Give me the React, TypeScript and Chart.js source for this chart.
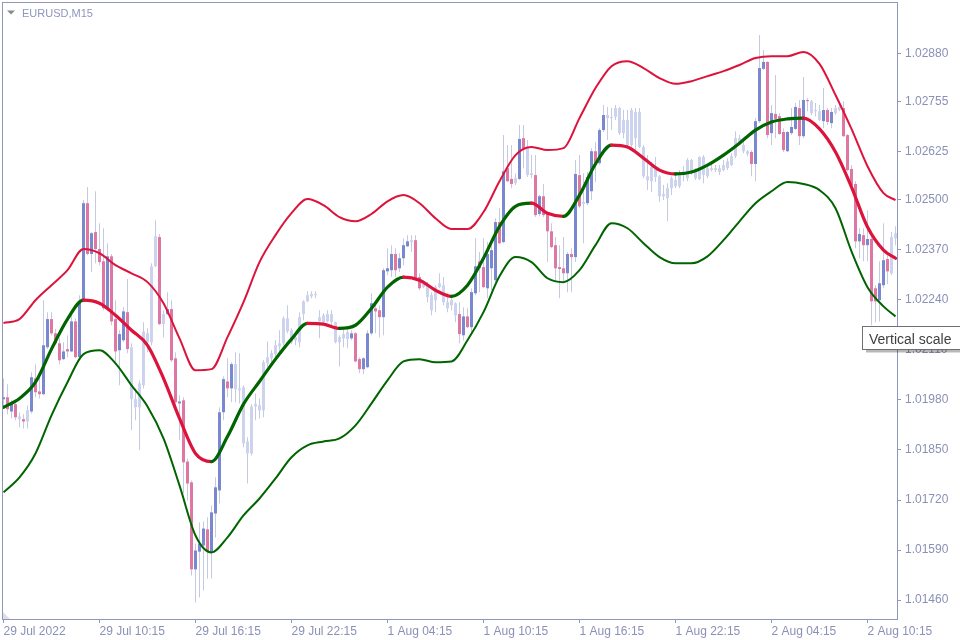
import React, { useEffect, useRef } from 'react';
import { Chart, registerables } from 'chart.js';

Chart.register(...registerables);

// ---- Data (EURUSD M15) ----
const opens = [
  1.01982,1.01987,1.01950,1.01969,1.01937,1.01930,1.01924,1.01950,1.02036,1.02002,
  1.01995,1.02117,1.02190,1.02153,1.02127,1.02086,1.02112,1.02106,1.02184,1.02091,
  1.02239,1.02491,1.02359,1.02416,1.02372,1.02340,1.02218,1.02353,1.02190,1.02109,
  1.02135,1.02208,1.02117,1.01982,1.01961,1.02018,1.02153,1.02130,1.02327,1.02403,
  1.02177,1.02203,1.02216,1.02088,1.01971,1.01979,1.01820,1.01766,1.01540,1.01586,
  1.01602,1.01644,1.01584,1.01685,1.01745,1.01948,1.02028,1.02010,1.02073,1.02010,
  1.02013,1.01872,1.01841,1.01963,1.01966,1.01953,1.02075,1.02088,1.02099,1.02119,
  1.02127,1.02192,1.02161,1.02135,1.02130,1.02203,1.02236,1.02249,1.02255,1.02195,
  1.02200,1.02184,1.02203,1.02182,1.02130,1.02140,1.02138,1.02140,1.02153,1.02086,
  1.02060,1.02065,1.02153,1.02218,1.02213,1.02195,1.02314,1.02317,1.02359,1.02322,
  1.02348,1.02379,1.02390,1.02395,1.02299,1.02273,1.02278,1.02252,1.02239,1.02273,
  1.02278,1.02234,1.02226,1.02231,1.02203,1.02148,1.02197,1.02169,1.02257,1.02340,
  1.02325,1.02270,1.02322,1.02291,1.02442,1.02390,1.02582,1.02554,1.02543,1.02554,
  1.02660,1.02634,1.02564,1.02564,1.02463,1.02509,1.02463,1.02418,1.02382,1.02325,
  1.02322,1.02309,1.02359,1.02351,1.02564,1.02489,1.02491,1.02522,1.02626,1.02595,
  1.02681,1.02720,1.02712,1.02715,1.02738,1.02673,1.02707,1.02642,1.02728,1.02728,
  1.02637,1.02561,1.02548,1.02585,1.02561,1.02509,1.02504,1.02530,1.02551,1.02535,
  1.02564,1.02556,1.02603,1.02574,1.02554,1.02611,1.02561,1.02582,1.02577,1.02582,
  1.02577,1.02582,1.02590,1.02613,1.02660,1.02642,1.02626,1.02624,1.02593,1.02704,
  1.02840,1.02858,1.02673,1.02723,1.02717,1.02676,1.02626,1.02673,1.02684,1.02738,
  1.02665,1.02759,1.02756,1.02730,1.02730,1.02704,1.02733,1.02699,1.02725,1.02733,
  1.02738,1.02668,1.02580,1.02541,1.02392,1.02408,1.02382,1.02398,1.02270,1.02239,
  1.02278,1.02346,1.02309,1.02400,
];

const highs = [
  1.02036,1.02021,1.01979,1.01974,1.01948,1.01943,1.01966,1.02052,1.02073,1.02044,
  1.02239,1.02208,1.02208,1.02164,1.02140,1.02130,1.02148,1.02200,1.02192,1.02252,
  1.02499,1.02533,1.02416,1.02522,1.02439,1.02426,1.02387,1.02359,1.02239,1.02161,
  1.02221,1.02294,1.02127,1.02010,1.02031,1.02182,1.02166,1.02335,1.02447,1.02411,
  1.02213,1.02260,1.02239,1.02104,1.01992,1.01987,1.01828,1.01771,1.01607,1.01662,
  1.01664,1.01675,1.01706,1.01779,1.01961,1.02041,1.02088,1.02078,1.02104,1.02101,
  1.02018,1.01883,1.01969,1.01997,1.01984,1.02083,1.02132,1.02109,1.02135,1.02161,
  1.02197,1.02226,1.02166,1.02151,1.02208,1.02239,1.02262,1.02262,1.02262,1.02213,
  1.02205,1.02213,1.02213,1.02184,1.02148,1.02166,1.02166,1.02161,1.02156,1.02091,
  1.02091,1.02161,1.02257,1.02234,1.02226,1.02322,1.02374,1.02382,1.02374,1.02361,
  1.02400,1.02408,1.02408,1.02408,1.02309,1.02291,1.02286,1.02260,1.02278,1.02309,
  1.02299,1.02257,1.02244,1.02234,1.02234,1.02221,1.02218,1.02270,1.02400,1.02364,
  1.02400,1.02390,1.02382,1.02452,1.02478,1.02668,1.02642,1.02642,1.02569,1.02694,
  1.02694,1.02655,1.02616,1.02616,1.02512,1.02541,1.02468,1.02439,1.02403,1.02382,
  1.02403,1.02364,1.02374,1.02603,1.02616,1.02569,1.02572,1.02634,1.02650,1.02686,
  1.02746,1.02741,1.02738,1.02746,1.02741,1.02733,1.02733,1.02738,1.02738,1.02738,
  1.02642,1.02616,1.02598,1.02611,1.02564,1.02538,1.02543,1.02561,1.02564,1.02577,
  1.02587,1.02608,1.02606,1.02582,1.02613,1.02616,1.02590,1.02600,1.02590,1.02590,
  1.02603,1.02608,1.02621,1.02678,1.02668,1.02652,1.02629,1.02629,1.02712,1.02928,
  1.02889,1.02860,1.02746,1.02824,1.02725,1.02686,1.02678,1.02738,1.02751,1.02759,
  1.02819,1.02764,1.02759,1.02751,1.02746,1.02790,1.02738,1.02738,1.02746,1.02756,
  1.02756,1.02671,1.02590,1.02548,1.02426,1.02426,1.02473,1.02405,1.02278,1.02340,
  1.02439,1.02356,1.02416,1.02431,
];

const lows = [
  1.01958,1.01943,1.01932,1.01927,1.01909,1.01906,1.01906,1.01945,1.01987,1.01984,
  1.01992,1.02112,1.02148,1.02122,1.02073,1.02083,1.02091,1.02104,1.02088,1.02088,
  1.02234,1.02356,1.02312,1.02335,1.02330,1.02213,1.02213,1.02174,1.02078,1.02018,
  1.02130,1.02101,1.01901,1.01927,1.01849,1.02010,1.02104,1.02122,1.02325,1.02174,
  1.02143,1.02200,1.02078,1.01966,1.01875,1.01737,1.01719,1.01524,1.01454,1.01467,
  1.01485,1.01516,1.01516,1.01623,1.01711,1.01927,1.01987,1.01974,1.01974,1.01971,
  1.01857,1.01763,1.01836,1.01927,1.01932,1.01935,1.02065,1.02075,1.02088,1.02104,
  1.02122,1.02153,1.02125,1.02122,1.02117,1.02187,1.02234,1.02244,1.02244,1.02140,
  1.02174,1.02182,1.02174,1.02127,1.02067,1.02117,1.02114,1.02135,1.02078,1.02049,
  1.02047,1.02062,1.02148,1.02153,1.02143,1.02148,1.02304,1.02299,1.02299,1.02312,
  1.02330,1.02377,1.02364,1.02291,1.02265,1.02270,1.02234,1.02200,1.02208,1.02270,
  1.02226,1.02208,1.02213,1.02182,1.02127,1.02135,1.02166,1.02148,1.02252,1.02260,
  1.02270,1.02244,1.02265,1.02286,1.02385,1.02387,1.02546,1.02530,1.02538,1.02551,
  1.02582,1.02559,1.02556,1.02455,1.02457,1.02455,1.02338,1.02374,1.02286,1.02244,
  1.02286,1.02260,1.02260,1.02338,1.02478,1.02387,1.02486,1.02499,1.02546,1.02590,
  1.02676,1.02655,1.02681,1.02707,1.02668,1.02660,1.02634,1.02637,1.02624,1.02634,
  1.02556,1.02525,1.02520,1.02546,1.02494,1.02499,1.02444,1.02512,1.02530,1.02530,
  1.02548,1.02548,1.02564,1.02551,1.02551,1.02543,1.02556,1.02574,1.02572,1.02564,
  1.02574,1.02577,1.02587,1.02608,1.02642,1.02621,1.02613,1.02561,1.02548,1.02699,
  1.02837,1.02660,1.02642,1.02660,1.02668,1.02624,1.02624,1.02668,1.02681,1.02642,
  1.02660,1.02730,1.02720,1.02717,1.02704,1.02686,1.02694,1.02686,1.02720,1.02730,
  1.02663,1.02574,1.02530,1.02374,1.02348,1.02340,1.02340,1.02174,1.02182,1.02184,
  1.02270,1.02281,1.02304,1.02382,
];

const closes = [
  1.01987,1.01956,1.01969,1.01935,1.01930,1.01924,1.01953,1.02039,1.02000,1.01995,
  1.02122,1.02190,1.02153,1.02127,1.02083,1.02106,1.02106,1.02184,1.02091,1.02236,
  1.02491,1.02359,1.02413,1.02372,1.02338,1.02218,1.02353,1.02184,1.02106,1.02151,
  1.02210,1.02112,1.01982,1.01961,1.02023,1.02158,1.02130,1.02327,1.02405,1.02177,
  1.02203,1.02216,1.02083,1.01974,1.01976,1.01818,1.01763,1.01540,1.01589,1.01607,
  1.01646,1.01586,1.01688,1.01753,1.01948,1.02034,1.02010,1.02073,1.02008,1.02005,
  1.01867,1.01841,1.01963,1.01969,1.01953,1.02078,1.02091,1.02101,1.02122,1.02127,
  1.02192,1.02158,1.02130,1.02143,1.02195,1.02236,1.02252,1.02255,1.02252,1.02184,
  1.02182,1.02203,1.02182,1.02130,1.02143,1.02151,1.02156,1.02153,1.02080,1.02060,
  1.02088,1.02153,1.02231,1.02210,1.02195,1.02317,1.02322,1.02359,1.02317,1.02348,
  1.02382,1.02392,1.02395,1.02296,1.02270,1.02283,1.02247,1.02213,1.02273,1.02283,
  1.02234,1.02218,1.02239,1.02200,1.02151,1.02197,1.02169,1.02260,1.02327,1.02322,
  1.02273,1.02359,1.02369,1.02442,1.02387,1.02574,1.02548,1.02541,1.02556,1.02658,
  1.02634,1.02564,1.02569,1.02460,1.02509,1.02460,1.02418,1.02377,1.02322,1.02320,
  1.02309,1.02359,1.02351,1.02567,1.02483,1.02494,1.02559,1.02626,1.02595,1.02681,
  1.02720,1.02712,1.02715,1.02738,1.02673,1.02707,1.02642,1.02733,1.02660,1.02637,
  1.02561,1.02551,1.02585,1.02559,1.02509,1.02515,1.02530,1.02556,1.02535,1.02564,
  1.02574,1.02603,1.02574,1.02556,1.02611,1.02564,1.02582,1.02577,1.02582,1.02572,
  1.02590,1.02600,1.02613,1.02660,1.02647,1.02626,1.02619,1.02593,1.02704,1.02842,
  1.02858,1.02668,1.02725,1.02710,1.02671,1.02629,1.02676,1.02689,1.02741,1.02665,
  1.02759,1.02756,1.02725,1.02733,1.02707,1.02733,1.02702,1.02728,1.02738,1.02741,
  1.02665,1.02577,1.02538,1.02392,1.02411,1.02382,1.02398,1.02236,1.02236,1.02283,
  1.02343,1.02314,1.02403,1.02413,
];

// bars painted in the faded (neutral) tone
const neutralBars = [
  4, 6, 32, 33, 34, 35, 36, 37, 38, 40,
  58, 59, 60, 61, 62, 63, 64, 65, 66, 67, 68, 69, 70, 71, 72, 73, 74, 75, 76, 77,
  78, 79, 80, 81, 82, 83, 84, 85, 86,
  102, 105, 106, 107, 108, 109, 110, 111, 112, 113,
  128, 131, 132, 145,
  151, 152, 153, 154, 155, 156, 157, 158, 159, 160, 161, 162, 163, 164, 165, 166,
  167, 168, 169, 170, 171, 172, 173, 174, 175, 176, 177, 178, 179, 180, 181, 182,
  183, 184, 185, 186,
  202, 203, 204, 208, 209, 222, 223,
];

// indicator lines, sampled at these bar numbers
const bandBars = [
  0, 4, 8, 12, 16, 20, 24, 28, 32, 36, 40, 44, 48, 52, 56, 60, 64, 68, 72, 76,
  80, 84, 88, 92, 96, 100, 104, 108, 112, 116, 120, 124, 128, 132, 136, 140, 144,
  148, 152, 156, 160, 164, 168, 172, 176, 180, 184, 188, 192, 196, 200, 204, 208,
  212, 216, 220, 223,
];
const upperBand = [
  1.02180,1.02190,1.02239,1.02278,1.02317,1.02372,1.02361,1.02330,1.02309,1.02286,
  1.02231,1.02140,1.02057,1.02060,1.02143,1.02234,1.02338,1.02408,1.02465,1.02502,
  1.02486,1.02455,1.02444,1.02463,1.02496,1.02512,1.02491,1.02452,1.02424,1.02424,
  1.02468,1.02548,1.02616,1.02637,1.02629,1.02634,1.02712,1.02790,1.02847,1.02860,
  1.02842,1.02816,1.02801,1.02808,1.02821,1.02834,1.02850,1.02868,1.02873,1.02873,
  1.02884,1.02853,1.02772,1.02684,1.02587,1.02517,1.02499,
];
const middleLine = [
  1.01961,1.01984,1.02026,1.02112,1.02190,1.02239,1.02231,1.02200,1.02161,1.02122,
  1.02036,1.01932,1.01841,1.01820,1.01885,1.01969,1.02028,1.02086,1.02138,1.02179,
  1.02177,1.02166,1.02174,1.02218,1.02273,1.02299,1.02291,1.02265,1.02249,1.02278,
  1.02348,1.02431,1.02483,1.02491,1.02465,1.02457,1.02512,1.02593,1.02642,1.02637,
  1.02608,1.02577,1.02567,1.02572,1.02590,1.02616,1.02647,1.02681,1.02702,1.02710,
  1.02712,1.02684,1.02624,1.02533,1.02429,1.02369,1.02348,
];
const lowerBand = [
  1.01740,1.01779,1.01841,1.01940,1.02026,1.02099,1.02109,1.02075,1.02018,1.01963,
  1.01880,1.01758,1.01628,1.01584,1.01623,1.01680,1.01724,1.01776,1.01831,1.01862,
  1.01872,1.01880,1.01914,1.01971,1.02031,1.02080,1.02086,1.02078,1.02080,1.02135,
  1.02208,1.02301,1.02351,1.02338,1.02296,1.02286,1.02317,1.02382,1.02439,1.02426,
  1.02387,1.02351,1.02335,1.02335,1.02353,1.02395,1.02444,1.02491,1.02522,1.02546,
  1.02541,1.02525,1.02478,1.02366,1.02273,1.02223,1.02197,
];

// axis labels
const timeTickBars = [0, 24, 48, 72, 96, 120, 144, 168, 192, 216];
const timeTickLabels = [
  '29 Jul 2022', '29 Jul 10:15', '29 Jul 16:15', '29 Jul 22:15', '1 Aug 04:15',
  '1 Aug 10:15', '1 Aug 16:15', '1 Aug 22:15', '2 Aug 04:15', '2 Aug 10:15',
];
const priceTicks = [
  1.01460, 1.01590, 1.01720, 1.01850, 1.01980, 1.02110,
  1.02240, 1.02370, 1.02500, 1.02625, 1.02755, 1.02880,
];

// ---- styles ----
const BULL = '#7a88cf';
const BEAR = '#df77a3';
const NEUTRAL = '#cdd3ef';
const WICK = '#c6cadf';
const RED = '#dc143c';
const GREEN = '#006400';
const AXIS = '#8f97bb';
const TEXT = '#8a91b5';
const FONT = '"Liberation Sans", Arial, sans-serif';

const overlayPlugin = {
  id: 'mtOverlay',
  beforeDraw(chart: any) {
    const { ctx, width, height } = chart;
    ctx.save();
    ctx.fillStyle = '#ffffff';
    ctx.fillRect(0, 0, width, height);
    ctx.restore();
  },
  afterDraw(chart: any) {
    const { ctx, chartArea: a } = chart;
    ctx.save();
    // frame
    ctx.strokeStyle = AXIS;
    ctx.lineWidth = 1;
    ctx.strokeRect(a.left - 0.5, a.top - 0.5, a.right - a.left + 1, a.bottom - a.top + 1);
    // corner triangle
    ctx.fillStyle = '#dcdfeb';
    ctx.beginPath();
    ctx.moveTo(a.left, a.bottom - 7);
    ctx.lineTo(a.left, a.bottom);
    ctx.lineTo(a.left + 7, a.bottom);
    ctx.closePath();
    ctx.fill();
    // title
    ctx.fillStyle = '#8a8a8a';
    ctx.beginPath();
    ctx.moveTo(7, 10.5);
    ctx.lineTo(15, 10.5);
    ctx.lineTo(11, 14.5);
    ctx.closePath();
    ctx.fill();
    ctx.fillStyle = '#8d95c1';
    ctx.font = '11px ' + FONT;
    ctx.textBaseline = 'alphabetic';
    ctx.textAlign = 'left';
    ctx.fillText('EURUSD,M15', 22, 17);
    // "Vertical scale" hint box
    ctx.fillStyle = 'rgba(0,0,0,0.28)';
    ctx.fillRect(866, 350, 94, 2.5);
    ctx.fillStyle = '#ffffff';
    ctx.fillRect(863, 327, 97, 23);
    ctx.strokeStyle = '#707070';
    ctx.strokeRect(862.5, 326.5, 100, 23);
    ctx.fillStyle = '#404040';
    ctx.font = '14px ' + FONT;
    ctx.fillText('Vertical scale', 869, 344);
    ctx.restore();
  },
};

export default function App() {
  const ref = useRef<HTMLCanvasElement | null>(null);

  useEffect(() => {
    const canvas = ref.current;
    if (!canvas) return;
    const idx = opens.map((_, i) => i);
    const bodyColors = idx.map((i) =>
      neutralBars.includes(i) ? NEUTRAL : closes[i] >= opens[i] ? BULL : BEAR
    );

    const chart = new Chart(canvas, {
      type: 'bar',
      data: {
        datasets: [
          {
            type: 'line',
            label: 'middle',
            data: bandBars.map((b, k) => ({ x: b, y: middleLine[k] })),
            borderColor: GREEN,
            borderWidth: 3.2,
            pointRadius: 0,
            cubicInterpolationMode: 'monotone',
            borderCapStyle: 'round',
            borderJoinStyle: 'round',
            segment: {
              borderColor: (c: any) => (c.p1.parsed.y >= c.p0.parsed.y ? GREEN : RED),
            },
            order: 0,
          } as any,
          {
            type: 'line',
            label: 'upper',
            data: bandBars.map((b, k) => ({ x: b, y: upperBand[k] })),
            borderColor: RED,
            borderWidth: 2,
            pointRadius: 0,
            cubicInterpolationMode: 'monotone',
            order: 0,
          } as any,
          {
            type: 'line',
            label: 'lower',
            data: bandBars.map((b, k) => ({ x: b, y: lowerBand[k] })),
            borderColor: GREEN,
            borderWidth: 2,
            pointRadius: 0,
            cubicInterpolationMode: 'monotone',
            order: 0,
          } as any,
          {
            type: 'bar',
            label: 'bodies',
            data: idx.map((i) => ({ x: i, y: [opens[i], closes[i]] })),
            backgroundColor: bodyColors,
            borderWidth: 0,
            barThickness: 3,
            minBarLength: 1,
            grouped: false,
            inflateAmount: 0,
            order: 1,
          } as any,
          {
            type: 'bar',
            label: 'wicks',
            data: idx.map((i) => ({ x: i, y: [lows[i], highs[i]] })),
            backgroundColor: WICK,
            borderWidth: 0,
            barThickness: 1,
            grouped: false,
            inflateAmount: 0,
            order: 2,
          } as any,
        ],
      },
      options: {
        responsive: false,
        animation: false,
        events: [],
        layout: { padding: { left: 3, top: 3, right: 0, bottom: 0 } },
        plugins: {
          legend: { display: false },
          tooltip: { enabled: false },
          title: { display: false },
        },
        scales: {
          x: {
            type: 'linear',
            position: 'bottom',
            min: -0.125,
            max: 223.375,
            offset: false,
            grid: {
              display: true,
              drawOnChartArea: false,
              drawTicks: true,
              tickLength: 4,
              color: AXIS,
              offset: false,
            },
            border: { display: false },
            afterBuildTicks: (s: any) => {
              s.ticks = timeTickBars.map((v) => ({ value: v }));
            },
            afterFit: (s: any) => {
              s.height = 21;
              s.paddingLeft = 0;
              s.paddingRight = 0;
            },
            ticks: {
              autoSkip: false,
              maxRotation: 0,
              minRotation: 0,
              align: 'start',
              padding: 1,
              color: TEXT,
              font: { family: FONT, size: 12 },
              callback: (_v: any, i: number) => timeTickLabels[i] ?? '',
            },
          } as any,
          y: {
            type: 'linear',
            position: 'right',
            min: 1.01411,
            max: 1.03011,
            beginAtZero: false,
            grid: {
              display: true,
              drawOnChartArea: false,
              drawTicks: true,
              tickLength: 4,
              color: AXIS,
            },
            border: { display: false },
            afterBuildTicks: (s: any) => {
              s.ticks = priceTicks.map((v) => ({ value: v }));
            },
            afterFit: (s: any) => {
              s.width = 63;
              s.paddingTop = 0;
              s.paddingBottom = 0;
            },
            ticks: {
              autoSkip: false,
              padding: 4,
              color: TEXT,
              font: { family: FONT, size: 12 },
              callback: (v: any) => Number(v).toFixed(5),
            },
          } as any,
        },
      },
      plugins: [overlayPlugin],
    });

    return () => chart.destroy();
  }, []);

  return (
    <div style={{ position: 'fixed', left: 0, top: 0, width: 960, height: 640, background: '#fff' }}>
      <canvas ref={ref} width={960} height={640} style={{ display: 'block', width: 960, height: 640 }} />
    </div>
  );
}
